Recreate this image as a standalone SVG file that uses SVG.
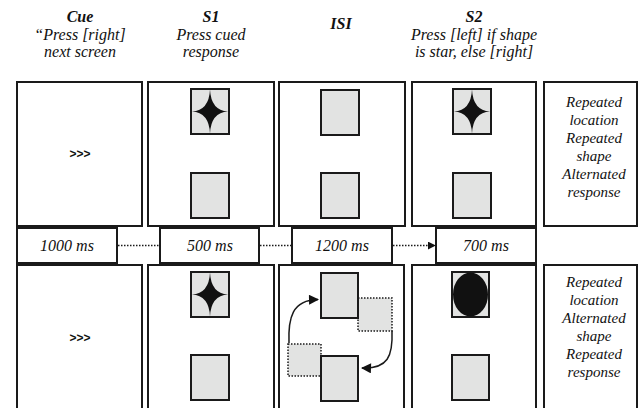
<svg xmlns="http://www.w3.org/2000/svg" width="643" height="408" viewBox="0 0 643 408">
<style>
.box{fill:#fff;stroke:#1a1a1a;stroke-width:2}
.sq{fill:#e2e3e2;stroke:#1a1a1a;stroke-width:2}
.dsq{fill:#e2e3e2;stroke:#1a1a1a;stroke-width:1.5;stroke-dasharray:1.5 1.5}
.hd{font-family:'Liberation Serif','Times New Roman',serif;font-style:italic;font-size:16px;text-anchor:middle;fill:#111}
.hb{font-weight:bold}
.rt{font-family:'Liberation Serif','Times New Roman',serif;font-style:italic;font-size:15px;text-anchor:middle;fill:#111}
.cue{font-family:'Liberation Sans',Arial,sans-serif;font-weight:bold;font-size:12px;text-anchor:middle;fill:#111}
.dot{stroke:#1a1a1a;stroke-width:1.5;stroke-dasharray:1.5 1.5;fill:none}
.cur{stroke:#1a1a1a;stroke-width:1.5;fill:none}
.star{fill:#111}
</style>
<defs>
<path id="star" class="star" d="M0,-22 Q1,-1 18,0 Q1,1 0,22 Q-1,1 -18,0 Q-1,-1 0,-22 Z"/>
<marker id="ah" viewBox="0 0 10 10" refX="9" refY="5" markerWidth="8" markerHeight="8" markerUnits="userSpaceOnUse" orient="auto">
<path d="M0,0 L10,5 L0,10 Z" fill="#111"/>
</marker>
<marker id="ah2" viewBox="0 0 10 10" refX="9" refY="5" markerWidth="11" markerHeight="10" markerUnits="userSpaceOnUse" orient="auto">
<path d="M0,0 L10,5 L0,10 Z" fill="#111"/>
</marker>
</defs>

<g id="headers">
<text class="hd hb" x="80" y="22">Cue</text>
<text class="hd" x="80" y="40">&#8220;Press [right]</text>
<text class="hd" x="80" y="57">next screen</text>
<text class="hd hb" x="211" y="22">S1</text>
<text class="hd" x="211" y="40">Press cued</text>
<text class="hd" x="211" y="57">response</text>
<text class="hd hb" x="341" y="29">ISI</text>
<text class="hd hb" x="474" y="22">S2</text>
<text class="hd" x="474" y="40">Press [left] if shape</text>
<text class="hd" x="474" y="57">is star, else [right]</text>
</g>

<g id="cue-top">
<rect class="box" x="17" y="82" width="125" height="144"/>
<text class="cue" x="80" y="158">&gt;&gt;&gt;</text>
</g>
<g id="s1-top">
<rect class="box" x="148" y="82" width="126" height="144"/>
<rect class="sq" x="191" y="89" width="38" height="45"/>
<use href="#star" x="210" y="111.5"/>
<rect class="sq" x="191" y="173" width="38" height="45"/>
</g>
<g id="isi-top">
<rect class="box" x="279" y="82" width="126" height="144"/>
<rect class="sq" x="321" y="90" width="38" height="45"/>
<rect class="sq" x="321" y="173" width="38" height="45"/>
</g>
<g id="s2-top">
<rect class="box" x="412" y="82" width="124" height="144"/>
<rect class="sq" x="453" y="89" width="38" height="45"/>
<use href="#star" x="472" y="111.5"/>
<rect class="sq" x="453" y="173" width="38" height="45"/>
</g>
<g id="note-top">
<rect class="box" x="544" y="82" width="93" height="144"/>
<text class="rt" x="594" y="107">Repeated</text>
<text class="rt" x="594" y="125">location</text>
<text class="rt" x="594" y="143">Repeated</text>
<text class="rt" x="594" y="161">shape</text>
<text class="rt" x="594" y="179">Alternated</text>
<text class="rt" x="594" y="197">response</text>
</g>

<g id="t1000"><rect class="box" x="17" y="228" width="100" height="35"/><text class="hd" x="67" y="251">1000 ms</text></g>
<g id="t500"><rect class="box" x="160" y="228" width="99" height="35"/><text class="hd" x="210" y="251">500 ms</text></g>
<g id="t1200"><rect class="box" x="292" y="228" width="100" height="35"/><text class="hd" x="342" y="251">1200 ms</text></g>
<g id="t700"><rect class="box" x="436" y="228" width="100" height="35"/><text class="hd" x="486" y="251">700 ms</text></g>

<g id="cue-bot">
<rect class="box" x="17" y="265" width="125" height="146"/>
<text class="cue" x="80" y="342">&gt;&gt;&gt;</text>
</g>
<g id="s1-bot">
<rect class="box" x="148" y="265" width="126" height="146"/>
<rect class="sq" x="191" y="272" width="38" height="45"/>
<use href="#star" x="210" y="294.5"/>
<rect class="sq" x="191" y="355" width="38" height="45"/>
</g>
<g id="isi-bot">
<rect class="box" x="279" y="265" width="125" height="146"/>
<rect class="dsq" x="358" y="298" width="34" height="33"/>
<rect class="dsq" x="288" y="344" width="33" height="32"/>
<rect class="sq" x="321" y="273" width="37" height="45"/>
<rect class="sq" x="321" y="356" width="37" height="45"/>
</g>
<g id="s2-bot">
<rect class="box" x="412" y="265" width="124" height="146"/>
<rect class="sq" x="452" y="272" width="37" height="45"/>
<ellipse cx="470.5" cy="294.5" rx="17.5" ry="22" fill="#111"/>
<rect class="sq" x="452" y="355" width="37" height="45"/>
</g>
<g id="note-bot">
<rect class="box" x="544" y="265" width="93" height="146"/>
<text class="rt" x="594" y="287">Repeated</text>
<text class="rt" x="594" y="305">location</text>
<text class="rt" x="594" y="323">Alternated</text>
<text class="rt" x="594" y="341">shape</text>
<text class="rt" x="594" y="359">Repeated</text>
<text class="rt" x="594" y="377">response</text>
</g>

<g id="connectors">
<line class="dot" x1="118" y1="245.5" x2="159" y2="245.5"/>
<line class="dot" x1="260" y1="245.5" x2="291" y2="245.5"/>
<line class="dot" x1="393" y1="245.5" x2="435" y2="245.5" marker-end="url(#ah)"/>
<path class="cur" d="M289,343 C288,318 292,300 318,299.5" marker-end="url(#ah2)"/>
<path class="cur" d="M392,331 C393,356 388,369 362,368" marker-end="url(#ah2)"/>
</g>
</svg>
